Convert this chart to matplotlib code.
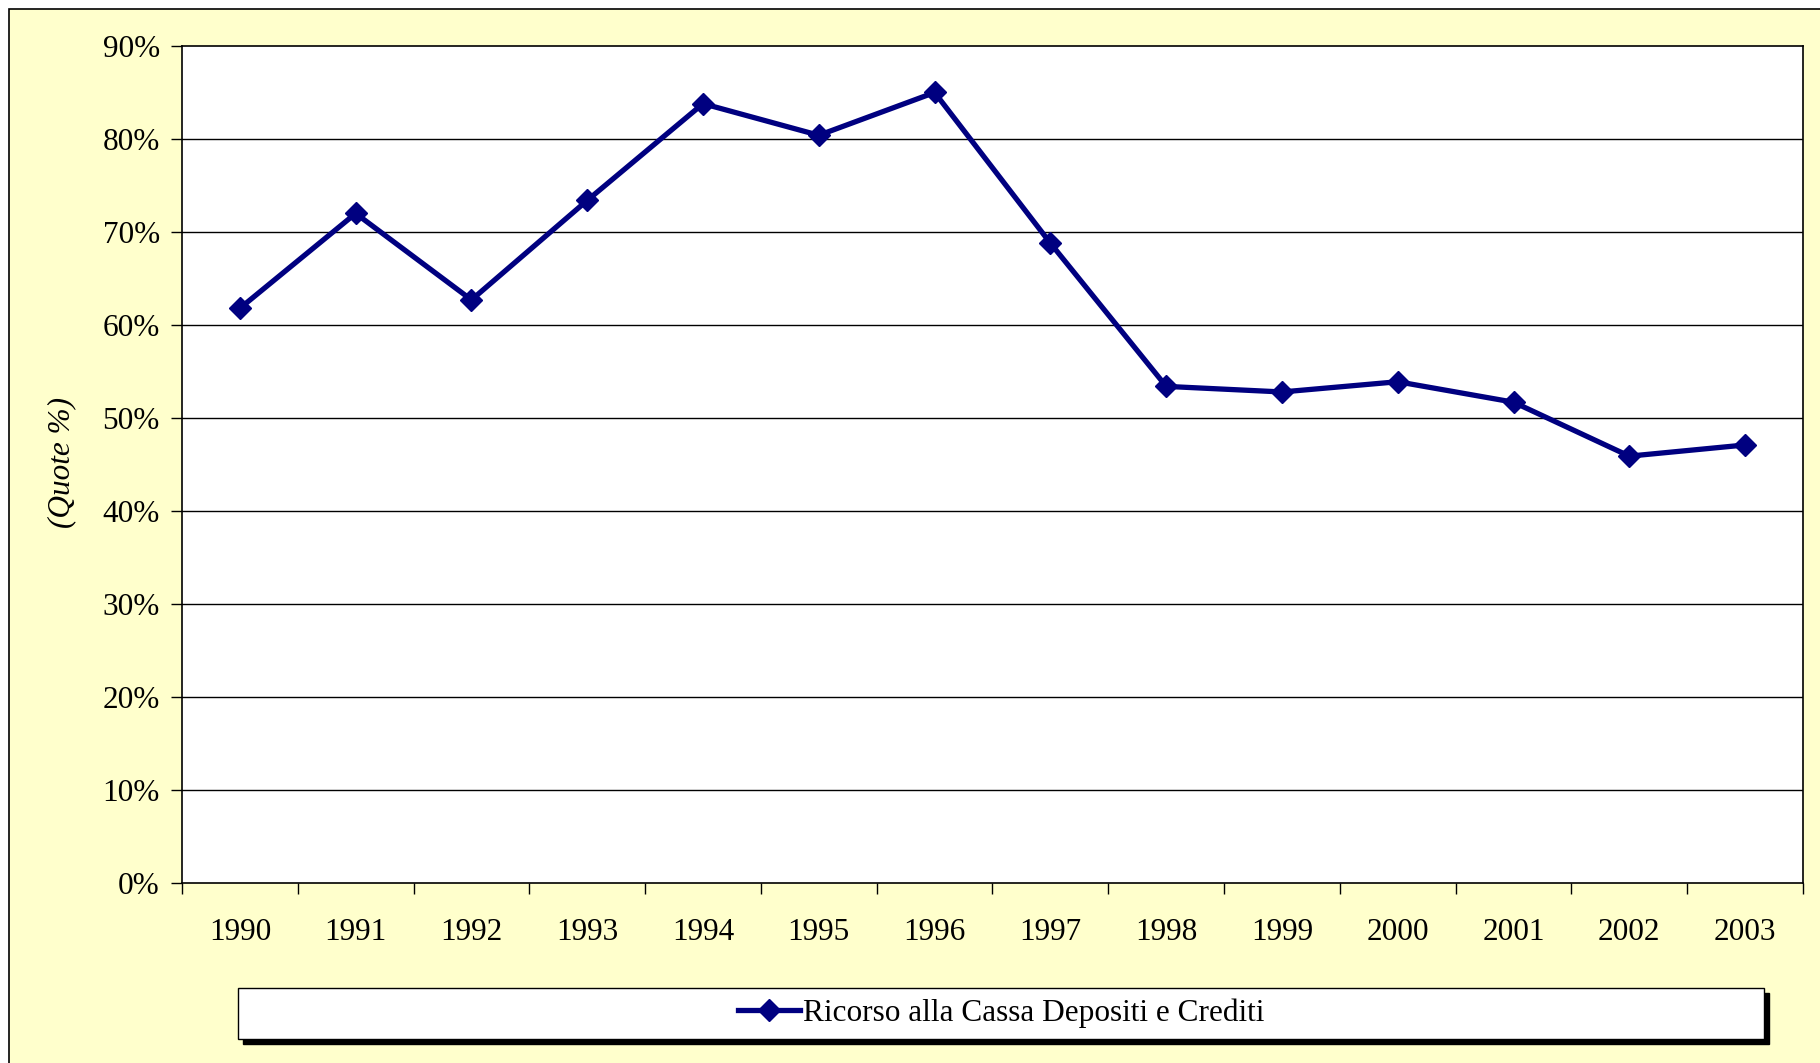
import numpy as np
import matplotlib
matplotlib.use('Agg')
import matplotlib.pyplot as plt
from matplotlib.patches import Rectangle
from matplotlib.lines import Line2D

# dati
anni = ['1990', '1991', '1992', '1993', '1994', '1995', '1996',
        '1997', '1998', '1999', '2000', '2001', '2002', '2003']
quote = [61.8, 72.0, 62.7, 73.4, 83.8, 80.4, 85.0,
         68.8, 53.4, 52.8, 53.9, 51.7, 45.9, 47.1]
y_ticks = [0, 10, 20, 30, 40, 50, 60, 70, 80, 90]
nome_serie = 'Ricorso alla Cassa Depositi e Crediti'

plt.rcParams['font.family'] = ['Liberation Serif', 'DejaVu Serif']
plt.rcParams['font.size'] = 22.5

W, H = 1820, 1063
fig = plt.figure(figsize=(W / 100, H / 100), dpi=100)
fig.patch.set_facecolor('white')

# sfondo giallo con bordo nero
sfondo = Rectangle((9 / W, -0.01), 1.0, 1 - 9 / H + 0.01, transform=fig.transFigure,
                   facecolor='#FFFFCC', edgecolor='black', linewidth=1.2, zorder=-10)
fig.patches.append(sfondo)

ax = fig.add_axes([182 / W, 180 / H, (1803 - 182) / W, (883 - 46) / H])
ax.set_facecolor('white')

x = np.arange(len(anni))
ax.plot(x, quote, color='#000080', linewidth=3.8, marker='D', markersize=11.5,
        label=nome_serie, zorder=3)

ax.set_xlim(-0.5, len(anni) - 0.5)
ax.set_ylim(0, 90)
ax.set_yticks(y_ticks)
ax.set_yticklabels([f'{v}%' for v in y_ticks])
ax.set_xticks(x)
ax.set_xticklabels(anni)
ax.set_xticks(np.arange(-0.5, len(anni)), minor=True)

ax.tick_params(axis='x', which='major', length=0, pad=25)
ax.tick_params(axis='x', which='minor', length=8, width=1, direction='out')
ax.tick_params(axis='y', length=8, width=1, direction='out', pad=8)

for v in y_ticks[1:-1]:
    ax.axhline(v, color='black', linewidth=1, zorder=1)
for s in ax.spines.values():
    s.set_color('black')
    s.set_linewidth(1.2)

fig.text(62 / W, 1 - 462 / H, '(Quote %)', rotation=90, style='italic',
         ha='center', va='center')

# legenda con ombra
lx0, lx1, ly0, ly1 = 238, 1764, 988, 1039
ombra = Rectangle(((lx0 + 5) / W, 1 - (ly1 + 5) / H), (lx1 - lx0) / W, (ly1 - ly0) / H,
                  transform=fig.transFigure, facecolor='black', edgecolor='black', zorder=1)
box = Rectangle((lx0 / W, 1 - ly1 / H), (lx1 - lx0) / W, (ly1 - ly0) / H,
                transform=fig.transFigure, facecolor='white', edgecolor='black',
                linewidth=1, zorder=2)
fig.patches.extend([ombra, box])
handle = Line2D([], [], color='#000080', linewidth=3.8, marker='D', markersize=11.5)
fig.legend([handle], [nome_serie], loc='center',
           bbox_to_anchor=((lx0 + lx1) / 2 / W, 1 - (ly0 + ly1) / 2 / H),
           frameon=False, handlelength=2.0, handletextpad=0.1, borderpad=0)

fig.savefig('out.png', dpi=100)
